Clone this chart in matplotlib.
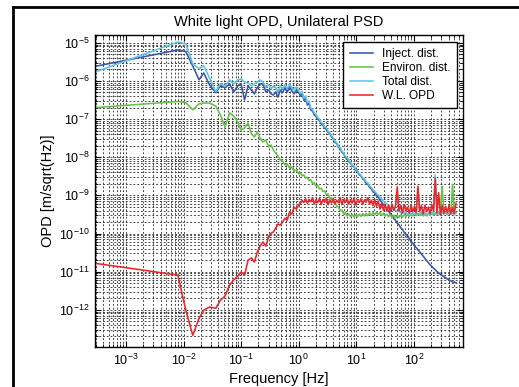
import numpy as np
import matplotlib
matplotlib.use('Agg')
import matplotlib.pyplot as plt
from matplotlib.lines import Line2D
from matplotlib.ticker import LogLocator, NullFormatter

plt.rcParams['font.family'] = ['Liberation Sans', 'DejaVu Sans']
plt.rcParams['mathtext.fontset'] = 'custom'
plt.rcParams['mathtext.rm'] = 'Liberation Sans'
plt.rcParams['mathtext.it'] = 'Liberation Sans:italic'
plt.rcParams['mathtext.bf'] = 'Liberation Sans:bold'
plt.rcParams['axes.unicode_minus'] = False

# frequency grid, log10(Hz)
freq_exp = [-3.54, -2.10, -1.96, -1.84, -1.73, -1.65, -1.55, -1.44, -1.36, -1.28,
            -1.20, -1.13, -1.06, -1.00, -0.94, -0.88, -0.82, -0.77, -0.72, -0.67,
            -0.62, -0.57, -0.52, -0.48, -0.44, -0.40, -0.36, -0.32, -0.28, -0.24,
            -0.20, -0.16, -0.12, -0.08, -0.04, 0.00,
            0.03, 0.06, 0.09, 0.12, 0.15, 0.18, 0.21, 0.24, 0.27, 0.30,
            0.33, 0.36, 0.39, 0.42, 0.45, 0.48, 0.51, 0.54, 0.57, 0.60,
            0.63, 0.66, 0.69, 0.72, 0.75, 0.78, 0.81, 0.84, 0.87, 0.90,
            0.93, 0.96, 0.99, 1.02, 1.05, 1.08, 1.11, 1.14, 1.17, 1.20,
            1.23, 1.26, 1.29, 1.32, 1.35, 1.38, 1.41, 1.44, 1.47, 1.50,
            1.53, 1.56, 1.59, 1.62, 1.65, 1.68, 1.71, 1.74, 1.77, 1.80,
            1.83, 1.86, 1.89, 1.92, 1.95, 1.98, 2.01, 2.04, 2.07, 2.10,
            2.13, 2.16, 2.19, 2.22, 2.25, 2.28, 2.31, 2.34, 2.37, 2.40,
            2.43, 2.46, 2.49, 2.52, 2.55, 2.58, 2.61, 2.64, 2.67, 2.70, 2.73]

# PSD values, log10(m/sqrt(Hz))
inject_exp = [-5.62, -5.19, -5.23, -5.61, -5.97, -5.79, -6.10, -6.31, -6.13, -6.18,
              -6.08, -6.29, -6.13, -6.08, -6.50, -6.13, -6.24, -6.34, -6.18, -6.08,
              -6.08, -6.29, -6.24, -6.34, -6.37, -6.29, -6.42, -6.24, -6.31, -6.18,
              -6.29, -6.16, -6.26, -6.34, -6.24, -6.31,
              -6.39, -6.33, -6.51, -6.46, -6.63, -6.59, -6.76, -6.79, -6.89, -6.93,
              -7.01, -7.03, -7.13, -7.16, -7.24, -7.27, -7.35, -7.38, -7.47, -7.51,
              -7.61, -7.64, -7.74, -7.77, -7.87, -7.91, -8.01, -8.03, -8.11, -8.15,
              -8.23, -8.25, -8.35, -8.38, -8.46, -8.49, -8.57, -8.60, -8.69, -8.71,
              -8.79, -8.83, -8.91, -8.94, -9.01, -9.05, -9.13, -9.17, -9.25, -9.29,
              -9.36, -9.41, -9.49, -9.53, -9.61, -9.65, -9.73, -9.77, -9.85, -9.89,
              -9.97, -10.01, -10.09, -10.13, -10.21, -10.25, -10.33, -10.37, -10.43, -10.48,
              -10.54, -10.59, -10.65, -10.71, -10.76, -10.82, -10.86, -10.91, -10.95, -11.00,
              -11.03, -11.07, -11.10, -11.13, -11.16, -11.19, -11.22, -11.24, -11.27, -11.28, -11.29]

environ_exp = [-6.70, -6.54, -6.57, -6.76, -6.60, -6.58, -6.58, -6.66, -6.89, -7.21,
               -6.84, -6.92, -7.08, -7.29, -7.23, -7.10, -7.39, -7.47, -7.34, -7.50,
               -7.60, -7.55, -7.73, -7.68, -7.81, -7.89, -7.97, -8.07, -8.10, -8.20,
               -8.18, -8.28, -8.26, -8.36, -8.34, -8.44,
               -8.41, -8.49, -8.46, -8.55, -8.53, -8.61, -8.59, -8.69, -8.67, -8.76,
               -8.73, -8.83, -8.81, -8.90, -8.88, -8.98, -8.97, -9.08, -9.06, -9.18,
               -9.17, -9.29, -9.31, -9.41, -9.38, -9.49, -9.45, -9.54, -9.49, -9.56,
               -9.50, -9.57, -9.51, -9.56, -9.49, -9.55, -9.48, -9.54, -9.47, -9.53,
               -9.46, -9.52, -9.45, -9.51, -9.44, -9.50, -9.45, -9.52, -9.47, -9.54,
               -9.49, -9.56, -9.51, -9.58, -9.52, -9.59, -9.53, -9.58, -9.52, -9.57,
               -9.51, -9.56, -9.50, -9.55, -9.49, -9.54, -9.48, -9.53, -9.47, -9.53,
               -9.48, -9.54, -9.49, -9.54, -9.48, -9.53, -9.47, -9.52, -9.46, -9.51,
               -9.46, -9.51, -8.76, -9.49, -9.45, -9.51, -9.46, -9.50, -8.71, -9.47, -9.46]

total_exp = [-5.77, -4.98, -5.03, -5.55, -5.68, -5.60, -5.92, -6.28, -6.08, -6.13,
             -5.97, -6.08, -5.97, -5.95, -6.03, -6.05, -6.13, -6.08, -6.03, -5.97,
             -6.03, -6.16, -6.10, -6.21, -6.13, -6.18, -6.29, -6.13, -6.21, -6.10,
             -6.21, -6.08, -6.18, -6.24, -6.16, -6.26,
             -6.33, -6.27, -6.46, -6.39, -6.57, -6.53, -6.71, -6.75, -6.84, -6.88,
             -6.97, -7.00, -7.09, -7.12, -7.21, -7.23, -7.32, -7.36, -7.44, -7.49,
             -7.58, -7.62, -7.71, -7.75, -7.84, -7.89, -7.98, -8.01, -8.09, -8.13,
             -8.21, -8.24, -8.32, -8.36, -8.43, -8.47, -8.54, -8.57, -8.65, -8.68,
             -8.75, -8.79, -8.86, -8.89, -8.95, -8.99, -9.05, -9.09, -9.15, -9.18,
             -9.23, -9.27, -9.32, -9.34, -9.39, -9.38, -9.43, -9.41, -9.46, -9.43,
             -9.48, -9.44, -9.49, -9.45, -9.51, -9.46, -9.50, -9.44, -8.81, -9.48,
             -9.43, -9.51, -9.45, -9.50, -9.46, -9.51, -9.44, -9.49, -8.46, -9.47,
             -9.43, -9.50, -9.45, -9.49, -9.44, -9.48, -9.43, -9.49, -9.46, -9.51, -9.45]

wl_opd_exp = [-10.78, -11.09, -12.01, -12.67, -12.22, -12.01, -11.93, -11.96, -11.75, -11.64,
              -11.35, -11.22, -11.12, -11.01, -11.09, -10.70, -10.64, -10.75, -10.49, -10.33,
              -10.22, -10.33, -10.07, -9.99, -9.96, -9.86, -9.75, -9.78, -9.70, -9.60,
              -9.65, -9.44, -9.49, -9.31, -9.36, -9.25,
              -9.21, -9.13, -9.19, -9.09, -9.21, -9.11, -9.17, -9.06, -9.23, -9.13,
              -9.19, -9.08, -9.24, -9.11, -9.18, -9.07, -9.25, -9.12, -9.20, -9.09,
              -9.22, -9.13, -9.19, -9.06, -9.24, -9.11, -9.18, -9.08, -9.23, -9.12,
              -9.20, -9.07, -9.25, -9.13, -9.19, -9.09, -9.24, -9.12, -9.18, -9.06,
              -9.23, -9.13, -9.27, -9.11, -9.29, -9.15, -9.36, -9.21, -9.39, -9.24,
              -9.41, -9.26, -9.43, -9.23, -9.39, -9.29, -8.78, -9.41, -9.27, -9.46,
              -9.24, -9.41, -9.31, -9.47, -9.25, -9.43, -9.29, -9.46, -8.76, -9.41,
              -9.27, -9.49, -9.26, -9.43, -9.31, -9.48, -9.24, -9.41, -8.56, -9.46,
              -8.93, -9.51, -9.27, -9.47, -9.29, -9.45, -9.26, -9.49, -9.31, -9.48, -9.21]

labels = ['Inject. dist.', 'Environ. dist.', 'Total dist.', 'W.L. OPD']
colors = ['#3a55ad', '#66c24a', '#5cc6e4', '#ee2528']

freq = 10.0 ** np.array(freq_exp)
series = [10.0 ** np.array(s) for s in (inject_exp, environ_exp, total_exp, wl_opd_exp)]

fig = plt.figure(figsize=(5.19, 3.87), dpi=100)
ax = fig.add_axes([0.183, 0.1034, 0.709, 0.8062])

for vals, lab, col in zip(series, labels, colors):
    ax.loglog(freq, vals, color=col, lw=1.15, label=lab)

ax.set_xlim(2.9e-4, 710)
ax.set_ylim(1.06e-13, 1.6e-5)

ax.xaxis.set_major_locator(LogLocator(base=10, numticks=20))
ax.yaxis.set_major_locator(LogLocator(base=10, numticks=20))
ax.xaxis.set_minor_locator(LogLocator(base=10, subs=np.arange(2, 10), numticks=20))
ax.yaxis.set_minor_locator(LogLocator(base=10, subs=np.arange(2, 10), numticks=20))
ax.xaxis.set_minor_formatter(NullFormatter())
ax.yaxis.set_minor_formatter(NullFormatter())

ax.tick_params(which='both', direction='in', top=True, right=True, labelsize=9, color='k')
ax.tick_params(which='major', length=4, pad=4)
ax.tick_params(which='minor', length=2)
ax.grid(True, which='both', color='0.2', lw=0.65, ls=(0, (2, 2.2)))
for sp in ax.spines.values():
    sp.set_linewidth(1.0)

ax.set_title('White light OPD, Unilateral PSD', fontsize=10.5, y=1.03, pad=0)
ax.set_xlabel('Frequency [Hz]', fontsize=10.5)
ax.set_ylabel('OPD [m/sqrt(Hz)]', fontsize=10.5)
ax.xaxis.set_label_coords(0.5, -0.08)
ax.yaxis.set_label_coords(-0.109, 0.5)

leg = ax.legend(loc='upper right', bbox_to_anchor=(0.984, 0.978), borderaxespad=0,
                fontsize=8.6, fancybox=False, framealpha=1, edgecolor='k',
                handlelength=1.95, handletextpad=0.75, labelspacing=0.15, borderpad=0.55)
leg.get_frame().set_linewidth(1.0)

# outer figure frame (top and left edges)
fig.add_artist(Line2D([13 / 519, 1.0], [1 - 7 / 387, 1 - 7 / 387], transform=fig.transFigure,
                      color='k', lw=2))
fig.add_artist(Line2D([13 / 519, 13 / 519], [0, 1 - 7 / 387], transform=fig.transFigure,
                      color='k', lw=2))

fig.savefig('out.png', dpi=100)
